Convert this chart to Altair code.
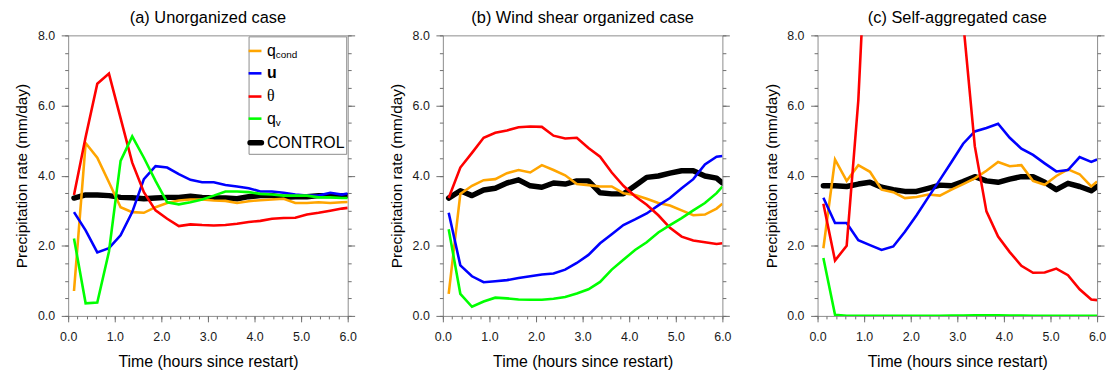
import altair as alt
import pandas as pd

times = [0.125, 0.375, 0.625, 0.875, 1.125, 1.375, 1.625, 1.875, 2.125, 2.375,
         2.625, 2.875, 3.125, 3.375, 3.625, 3.875, 4.125, 4.375, 4.625, 4.875,
         5.125, 5.375, 5.625, 5.875, 6.0]

series_names = ["qcond", "u", "theta", "qv"]
series_colors = ["#FFA500", "#0000FF", "#FF0000", "#00FF00"]

# (a) Unorganized case
a_qcond = [0.71, 4.93, 4.51, 3.81, 3.10, 2.96, 2.94, 3.10, 3.22, 3.29, 3.32, 3.32, 3.29,
           3.28, 3.22, 3.27, 3.30, 3.32, 3.34, 3.22, 3.22, 3.24, 3.22, 3.24, 3.25]
a_u = [2.96, 2.44, 1.81, 1.93, 2.30, 2.96, 3.90, 4.27, 4.23, 4.04, 3.88, 3.81, 3.81,
       3.73, 3.69, 3.64, 3.55, 3.55, 3.51, 3.46, 3.43, 3.43, 3.51, 3.46, 3.49]
a_theta = [3.45, 5.10, 6.62, 6.91, 5.64, 4.37, 3.53, 3.01, 2.77, 2.56, 2.61, 2.59, 2.58,
           2.59, 2.63, 2.68, 2.71, 2.77, 2.79, 2.80, 2.89, 2.94, 3.00, 3.06, 3.08]
a_qv = [2.21, 0.36, 0.38, 1.83, 4.42, 5.12, 4.51, 3.85, 3.24, 3.18, 3.24, 3.32, 3.43,
        3.55, 3.55, 3.53, 3.48, 3.46, 3.43, 3.43, 3.43, 3.38, 3.38, 3.36, 3.36]
a_ctrl = [3.36, 3.45, 3.45, 3.43, 3.38, 3.37, 3.34, 3.36, 3.38, 3.38, 3.41, 3.38, 3.36,
          3.36, 3.34, 3.40, 3.43, 3.43, 3.38, 3.40, 3.40, 3.43, 3.43, 3.43, 3.43]

# (b) Wind shear organized case
b_qcond = [0.63, 3.48, 3.71, 3.87, 3.90, 4.07, 4.16, 4.09, 4.30, 4.16, 4.01, 3.76, 3.73,
           3.69, 3.69, 3.50, 3.45, 3.34, 3.22, 3.15, 3.01, 2.87, 2.89, 3.06, 3.20]
b_u = [2.94, 1.44, 1.13, 0.96, 0.99, 1.02, 1.08, 1.13, 1.18, 1.21, 1.32, 1.51, 1.74,
       2.07, 2.33, 2.59, 2.75, 2.92, 3.15, 3.36, 3.64, 3.90, 4.32, 4.54, 4.56]
b_theta = [3.36, 4.23, 4.65, 5.08, 5.22, 5.29, 5.38, 5.40, 5.39, 5.14, 5.06, 5.08, 4.79,
           4.54, 4.09, 3.71, 3.41, 3.17, 2.87, 2.51, 2.26, 2.15, 2.10, 2.05, 2.07]
b_qv = [2.47, 0.63, 0.26, 0.41, 0.52, 0.50, 0.47, 0.46, 0.46, 0.49, 0.54, 0.64, 0.76,
        0.97, 1.32, 1.60, 1.88, 2.10, 2.38, 2.59, 2.79, 3.01, 3.22, 3.50, 3.69]
b_ctrl = [3.36, 3.57, 3.43, 3.59, 3.64, 3.79, 3.88, 3.71, 3.67, 3.79, 3.76, 3.85, 3.85,
          3.51, 3.48, 3.48, 3.71, 3.95, 3.99, 4.07, 4.14, 4.14, 3.99, 3.93, 3.79]

# (c) Self-aggregated case
c_qcond = [1.93, 4.46, 3.85, 4.30, 4.11, 3.60, 3.53, 3.36, 3.39, 3.46, 3.43, 3.60, 3.76,
           3.92, 4.14, 4.39, 4.27, 4.30, 3.85, 3.74, 3.99, 4.18, 4.04, 3.69, 3.83]
c_u = [3.37, 2.65, 2.65, 2.16, 2.02, 1.88, 1.98, 2.40, 2.87, 3.38, 3.88, 4.39, 4.91,
       5.26, 5.36, 5.48, 5.08, 4.77, 4.59, 4.35, 4.12, 4.16, 4.53, 4.39, 4.46]
c_theta = [3.20, 1.58, 2.00, 6.15, 13.0, 17.0, 20.0, 21.0, 21.0, 19.0, 16.0, 12.0, 8.4,
           4.84, 2.98, 2.26, 1.82, 1.43, 1.23, 1.24, 1.35, 1.16, 0.76, 0.47, 0.45]
c_qv = [1.65, 0.03, 0.00, 0.00, 0.00, 0.00, 0.00, 0.00, 0.00, 0.00, 0.00, 0.01, 0.01,
        0.02, 0.02, 0.02, 0.01, 0.01, 0.00, 0.00, 0.00, 0.00, 0.00, 0.00, 0.00]
c_ctrl = [3.71, 3.71, 3.69, 3.76, 3.81, 3.67, 3.60, 3.55, 3.55, 3.64, 3.73, 3.71, 3.83,
          3.97, 3.85, 3.81, 3.90, 3.97, 3.97, 3.81, 3.60, 3.78, 3.69, 3.57, 3.69]

panel_titles = ["(a) Unorganized case", "(b) Wind shear organized case",
                "(c) Self-aggregated case"]

x_major = [0.0, 1.0, 2.0, 3.0, 4.0, 5.0, 6.0]
x_minor = [round(0.2 * i, 1) for i in range(31)]
y_major = [0.0, 2.0, 4.0, 6.0, 8.0]
y_minor = [round(0.5 * i, 1) for i in range(17)]

FONT = "Liberation Sans"
GRAY = "#8c8c8c"
TICK = "#6e6e6e"
W, H = 282, 283

XSCALE = alt.Scale(domain=[0, 6], nice=False, zero=False)
YSCALE = alt.Scale(domain=[0, 8], nice=False, zero=False)


def long_df(q, u, th, qv):
    rows = []
    for name, vals in zip(series_names, [q, u, th, qv]):
        for t, v in zip(times, vals):
            rows.append({"t": t, "v": v, "s": name})
    return pd.DataFrame(rows)


X_MAJOR_AX = alt.Axis(orient="bottom", values=x_major, format=".1f", ticks=True, tickSize=6,
                      labelPadding=9, labelFlush=False, title="Time (hours since restart)",
                      titlePadding=11, titleFontSize=16)
X_MINOR_AX = alt.Axis(orient="bottom", values=x_minor, labels=False, ticks=True, tickSize=3, title=None)
Y_MAJOR_AX = alt.Axis(orient="left", values=y_major, format=".1f", ticks=True, tickSize=7,
                      labelPadding=6.7, labelFlush=False, title="Precipitation rate (mm/day)",
                      titlePadding=7.5, titleFontSize=15.5)
Y_MINOR_AX = alt.Axis(orient="left", values=y_minor, labels=False, ticks=True, tickSize=3.5, title=None)
YR_MAJOR_AX = alt.Axis(orient="right", values=y_major, labels=False, ticks=True, tickSize=7, title=None)
YR_MINOR_AX = alt.Axis(orient="right", values=y_minor, labels=False, ticks=True, tickSize=3.5, title=None)


def panel(title, q, u, th, qv, ctrl, legend=False):
    df = long_df(q, u, th, qv)
    dctrl = pd.DataFrame({"t": times, "v": ctrl, "s": "CONTROL"})

    ctrl_line = alt.Chart(dctrl).mark_line(
        color="black", strokeWidth=5.5, strokeCap="round", strokeJoin="round", clip=True
    ).encode(
        x=alt.X("t:Q", scale=XSCALE, axis=X_MAJOR_AX),
        y=alt.Y("v:Q", scale=YSCALE, axis=Y_MAJOR_AX),
    )

    lines = alt.Chart(df).mark_line(strokeWidth=2.6, clip=True).encode(
        x=alt.X("t:Q", scale=XSCALE, axis=None),
        y=alt.Y("v:Q", scale=YSCALE, axis=None),
        color=alt.Color("s:N", scale=alt.Scale(domain=series_names, range=series_colors), legend=None),
        detail="s:N",
    )

    minor_left = alt.Chart(dctrl).mark_line(opacity=0).encode(
        x=alt.X("t:Q", scale=XSCALE, axis=X_MINOR_AX),
        y=alt.Y("v:Q", scale=YSCALE, axis=Y_MINOR_AX),
    )
    right_major = alt.Chart(dctrl).mark_line(opacity=0).encode(
        x=alt.X("t:Q", scale=XSCALE, axis=None),
        y=alt.Y("v:Q", scale=YSCALE, axis=YR_MAJOR_AX),
    )
    right_minor = alt.Chart(dctrl).mark_line(opacity=0).encode(
        x=alt.X("t:Q", scale=XSCALE, axis=None),
        y=alt.Y("v:Q", scale=YSCALE, axis=YR_MINOR_AX),
    )

    layers = [ctrl_line, lines, minor_left, right_major, right_minor]

    if legend:
        box = alt.Chart(pd.DataFrame({"a": [0]})).mark_rect(
            fill="white", stroke=GRAY, strokeWidth=1
        ).encode(x=alt.value(182.5), x2=alt.value(281), y=alt.value(1.5), y2=alt.value(120))
        layers.append(box)
        entries = [
            ("q", "cond", "#FFA500", 2.6, FONT, "normal"),
            ("u", "", "#0000FF", 2.6, FONT, "bold"),
            ("θ", "", "#FF0000", 2.6, "Liberation Serif", "normal"),
            ("q", "v", "#00FF00", 2.6, FONT, "normal"),
            ("CONTROL", "", "black", 5.5, FONT, "normal"),
        ]
        row_y = [15.7, 38.3, 61.7, 84.0, 108.3]
        ldf = pd.DataFrame({"a": [0]})
        for (main, sub, col, sw, fnt, fw), yy in zip(entries, row_y):
            layers.append(
                alt.Chart(ldf).mark_rule(color=col, strokeWidth=sw, strokeCap="round" if sw > 3 else "butt").encode(
                    x=alt.value(183.5 if sw > 3 else 182), x2=alt.value(195), y=alt.value(yy), y2=alt.value(yy)
                )
            )
            layers.append(
                alt.Chart(ldf).mark_text(
                    text=main, font=fnt, fontSize=16, fontWeight=fw, align="left", baseline="middle", color="black"
                ).encode(x=alt.value(200.5), y=alt.value(yy))
            )
            if sub:
                layers.append(
                    alt.Chart(ldf).mark_text(
                        text=sub, font=FONT, fontSize=10, align="left", baseline="middle", color="black"
                    ).encode(x=alt.value(209.5), y=alt.value(yy + 4))
                )

    return alt.layer(*layers).resolve_axis(x="independent", y="independent").properties(
        width=W, height=H,
        title=alt.TitleParams(title, font=FONT, fontSize=16.5, fontWeight="normal", color="black", offset=3),
    )


p1 = panel(panel_titles[0], a_qcond, a_u, a_theta, a_qv, a_ctrl, legend=True)
p2 = panel(panel_titles[1], b_qcond, b_u, b_theta, b_qv, b_ctrl)
p3 = panel(panel_titles[2], c_qcond, c_u, c_theta, c_qv, c_ctrl)

chart = alt.hconcat(p1, p2, p3, spacing=96, bounds="flush").configure_view(
    stroke=GRAY, strokeWidth=1
).configure_axis(
    labelFont=FONT, labelFontSize=12.5, labelColor="#1a1a1a", labelFlush=False,
    titleFont=FONT, titleFontSize=15, titleFontWeight="normal", titleColor="black",
    ticks=True, tickColor=TICK, tickWidth=1, domain=False, grid=False,
).configure_title(anchor="middle").properties(
    padding={"left": 5.7, "top": 0, "right": 0, "bottom": 2}, background="white"
)

chart.save("out.html", embed_options={"renderer": "svg", "actions": False})
